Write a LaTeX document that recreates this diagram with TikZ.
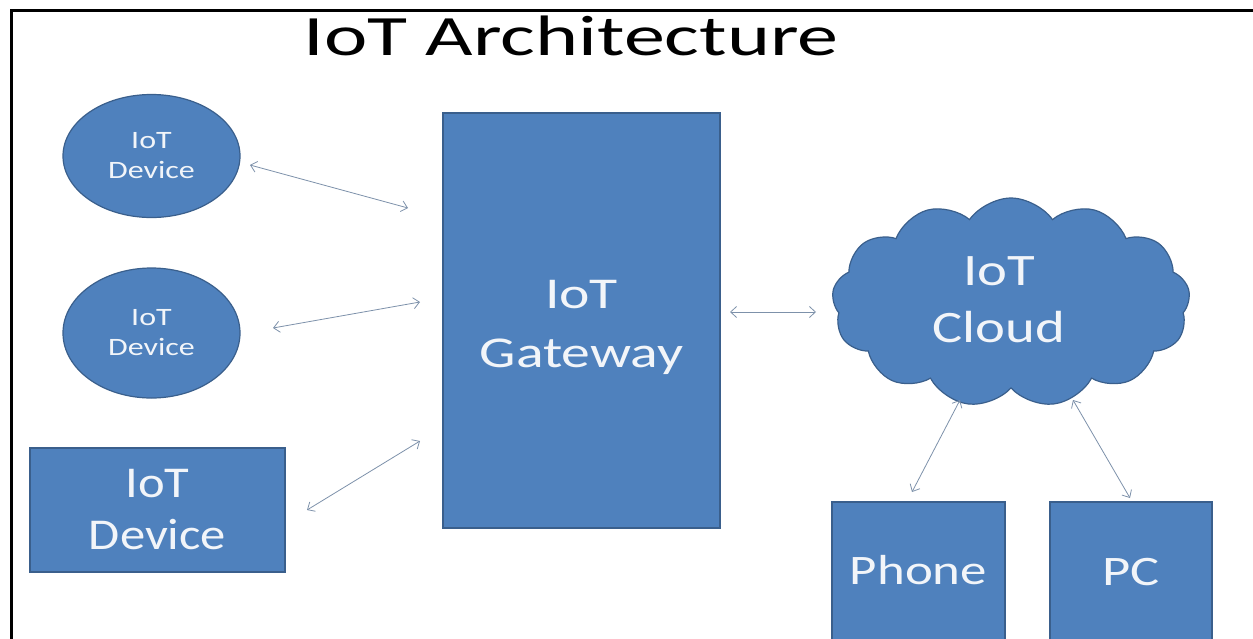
\documentclass[tikz,border=0pt]{standalone}
\usepackage{fontspec}
\setmainfont{Carlito}
\usetikzlibrary{shapes.geometric,shapes.symbols,arrows.meta}
\definecolor{boxblue}{HTML}{4F81BD}
\definecolor{boxedge}{HTML}{3A5F8C}
\definecolor{arrowc}{HTML}{7D91AA}
\definecolor{txt}{HTML}{F2F5F9}
\newcommand{\wx}[2]{\scalebox{#1}[1]{#2}}
\newcommand{\wxd}[3]{\raisebox{-#1}[\height][\depth]{\scalebox{#2}[1]{#3}}}
\begin{document}
\begin{tikzpicture}[x=1pt,y=-1pt,
  blk/.style={fill=boxblue,draw=boxedge,line width=1.2pt,text=txt,align=center,inner sep=0pt},
  con/.style={draw=arrowc,line width=0.8pt,{Straight Barb[length=6pt,width=11pt]}-{Straight Barb[length=6pt,width=11pt]}},
  frame/.style={draw=black,line width=3pt}]
\useasboundingbox (0,0) rectangle (1253,638);
\clip (0,0) rectangle (1253,638);

% frame
\coordinate (fbl) at (11,660);
\coordinate (ftl) at (11,10);
\coordinate (ftr) at (1260,10);
\draw[frame] (fbl) -- (ftl) -- (ftr);

% title
\node[anchor=base,inner sep=0pt,font=\fontsize{57}{68}\selectfont] (title) at (571,55)
  {\wx{1.44}{IoT Architecture}};

% devices
\node[blk,ellipse,minimum width=177pt,minimum height=123pt,font=\fontsize{25}{30}\selectfont] (dev1) at (151.5,156)
  {\wx{1.28}{IoT}\\\wx{1.28}{Device}};
\node[blk,ellipse,minimum width=177pt,minimum height=130pt,font=\fontsize{25}{30}\selectfont] (dev2) at (151.5,333)
  {\wx{1.28}{IoT}\\\wx{1.28}{Device}};
\node[blk,rectangle,minimum width=255pt,minimum height=124pt,font=\fontsize{44}{52}\selectfont] (dev3) at (157.5,510)
  {\wx{1.15}{IoT}\\\wx{1.15}{Device}};

% gateway
\node[blk,rectangle,minimum width=277pt,minimum height=415pt,font=\fontsize{44}{59}\selectfont] (gw) at (581.5,320.5)
  {\wxd{7pt}{1.31}{IoT}\\\wxd{7pt}{1.31}{Gateway}};

% cloud
\node[blk,cloud,cloud puffs=13,cloud puff arc=110,aspect=1.75,minimum width=358pt,minimum height=209pt] (cloud) at (1011,302.5) {};
\node[text=txt,align=center,inner sep=0pt,font=\fontsize{45}{57}\selectfont] (cloudtxt) at (999,300)
  {\wx{1.26}{IoT}\\\wx{1.26}{Cloud}};

% phone and pc
\node[blk,rectangle,minimum width=173pt,minimum height=150pt,text height=27pt,text depth=13pt,font=\fontsize{42}{50}\selectfont] (phone) at (918.5,577)
  {\wx{1.26}{Phone}};
\node[blk,rectangle,minimum width=162pt,minimum height=150pt,text height=27pt,text depth=11pt,font=\fontsize{42}{50}\selectfont] (pc) at (1131,577)
  {\wx{1.3}{PC}};

% connector end points
\coordinate (a1s) at (250,165);  \coordinate (a1e) at (408,208);
\coordinate (a2s) at (273,328);  \coordinate (a2e) at (420,302);
\coordinate (a3s) at (307,510);  \coordinate (a3e) at (420,441);
\coordinate (a4s) at (730,312);  \coordinate (a4e) at (816,312);
\coordinate (a5s) at (960,400);  \coordinate (a5e) at (912,492);
\coordinate (a6s) at (1073,400); \coordinate (a6e) at (1130,498);

\draw[con] (a1s) -- (a1e);
\draw[con] (a2s) -- (a2e);
\draw[con] (a3s) -- (a3e);
\draw[con] (a4s) -- (a4e);
\draw[con] (a5s) -- (a5e);
\draw[con] (a6s) -- (a6e);
\end{tikzpicture}
\end{document}
